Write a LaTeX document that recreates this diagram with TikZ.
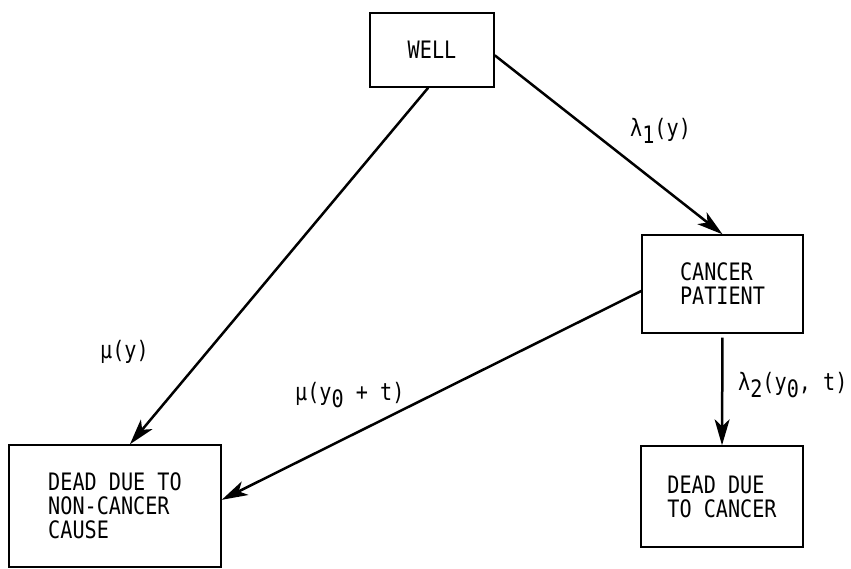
\documentclass[tikz,border=0pt]{standalone}
\usepackage{fontspec}
\setmonofont[FakeStretch=0.84]{DejaVu Sans Mono}
\usetikzlibrary{arrows.meta,calc}
\newcommand\lowsub[1]{\raisebox{-7pt}{#1}}
\tikzset{
  statebox/.style={draw, line width=1.4pt, inner sep=0pt, align=left, font=\ttfamily\fontsize{24}{24}\selectfont},
  flow/.style={line width=2.5pt, -{Stealth[length=26pt,width=15pt,inset=7pt]}},
  rate/.style={font=\ttfamily\fontsize{24}{24}\selectfont, inner sep=0pt, anchor=base west}
}
\begin{document}
\begin{tikzpicture}[x=1pt,y=-1pt]
\useasboundingbox (0,0) rectangle (851,568);
\node[statebox, minimum width=124pt, minimum height=74pt] (well) at (432,50) {WELL};
\node[statebox, minimum width=161pt, minimum height=98pt] (cp) at (722.5,284) {CANCER\\PATIENT};
\node[statebox, minimum width=162pt, minimum height=101pt] (dc) at (722,496.5) {DEAD DUE\\TO CANCER};
\node[statebox, minimum width=212pt, minimum height=122pt] (nc) at (115,506) {DEAD DUE TO\\NON-CANCER\\CAUSE};
\draw[flow] ($(well.north east)!0.57!(well.south east)$) -- (cp.north);
\draw[flow] ($(well.south west)!0.47!(well.south east)$) -- ($(nc.north west)!0.57!(nc.north east)$);
\draw[flow] ($(cp.north west)!0.57!(cp.south west)$) -- ($(nc.north east)!0.45!(nc.south east)$);
\draw[flow, shorten <=4pt] (cp.south) -- (dc.north);
\node[rate] (l1) at (630,136) {λ\lowsub{1}(y)};
\node[rate] (mu) at (100,358) {μ(y)};
\node[rate] (mu0) at (295,400) {μ(y\lowsub{0} + t)};
\node[rate] (l2) at (738,390) {λ\lowsub{2}(y\lowsub{0}, t)};
\end{tikzpicture}
\end{document}
